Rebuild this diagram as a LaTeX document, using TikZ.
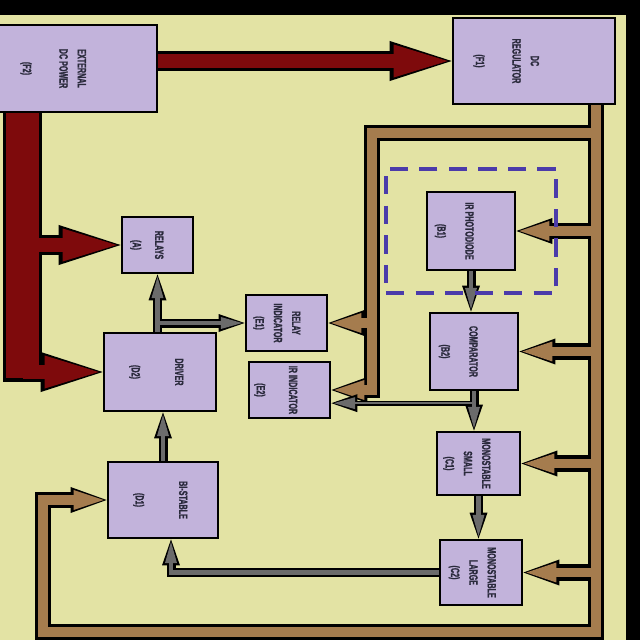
\documentclass[tikz,border=0pt]{standalone}
\usepackage{fontspec}
\usepackage{graphicx}
\usetikzlibrary{arrows.meta,calc,fit}
\newfontfamily\blockfont[FakeStretch=0.6,FakeBold=1.2]{Liberation Sans}
\definecolor{paper}{HTML}{E3E3A4}
\definecolor{lilac}{HTML}{C2B3DB}
\definecolor{powerred}{HTML}{7E0A0C}
\definecolor{wire}{HTML}{A57C4E}
\definecolor{sig}{HTML}{6B6B6B}
\definecolor{dashblue}{HTML}{4B3BAA}
\definecolor{ink}{HTML}{2A2A3C}
\newlength{\pxu}\setlength{\pxu}{0.025cm}
% rotated label, shifted left by #1 px
\newcommand{\blk}[2][0]{\rotatebox{-90}{\begin{tabular}{@{}c@{}}#2\end{tabular}}\hspace*{\dimexpr #1\pxu*2\relax}}
\tikzset{blkbox/.style 2 args={draw=black,line width=2pt,fill=lilac,minimum width=#1*0.025cm,
  minimum height=#2*0.025cm,inner sep=1pt,text=ink,font=\blockfont\bfseries\fontsize{8.5}{13}\selectfont},
  sensorframe/.style={draw=dashblue,line width=2.8pt,dash pattern=on 13pt off 8pt}}
\begin{document}
\begin{tikzpicture}[x=0.025cm,y=-0.025cm,line join=miter]
\useasboundingbox (0,0) rectangle (640,640);
\clip (0,0) rectangle (640,640);
\fill[paper] (0,0) rectangle (640,640);
\fill[black] (0,0) rectangle (640,15);
\fill[black] (626,0) rectangle (640,640);

% blocks
\node[blkbox={162}{87}] (F2) at (76,68.5) {\blk[22]{EXTERNAL\\DC POWER\\[13pt](F2)}};
\node[blkbox={162}{86}] (F1) at (534,61) {\blk[27]{DC\\REGULATOR\\[13pt](F1)}};
\node[blkbox={71}{56}] (A) at (157.5,245) {\blk[10]{RELAYS\\[3pt](A)}};
\node[blkbox={112}{78}] (D2) at (160,372) {\blk[3]{DRIVER\\[18pt](D2)}};
\node[blkbox={81}{56}] (E1) at (286.5,323) {\blk[9]{RELAY\\INDICATOR\\(E1)}};
\node[blkbox={81}{56}] (E2) at (289.5,390) {\blk[13]{IR INDICATOR\\[10pt](E2)}};
\node[blkbox={88}{78}] (B1) at (471,231) {\blk[16]{IR PHOTODIODE\\[7pt](B1)}};
\node[blkbox={88}{77}] (B2) at (474,351.5) {\blk[15]{COMPARATOR\\[7pt](B2)}};
\node[blkbox={83}{63}] (C1) at (478.5,463.5) {\blk[11]{MONOSTABLE\\SMALL\\(C1)}};
\node[blkbox={82}{65}] (C2) at (481,572.5) {\blk[8]{MONOSTABLE\\LARGE\\(C2)}};
\node[blkbox={110}{76}] (D1) at (163,500) {\blk[2]{BI-STABLE\\[18pt](D1)}};

% power feed
\coordinate (trunk) at (22.5,382);
\foreach \tw/\aw/\hl/\hw/\col/\sh in {27.7pt/14.2pt/44pt/28.5pt/black/0pt,23.5pt/10pt/38.4pt/23.5pt/powerred/2.8pt}{
 \draw[draw=\col,line width=\tw,shorten >=\sh] (F2.south -| trunk) -- (trunk);
 \begin{scope}[draw=\col,line width=\aw,shorten >=\sh,-{Triangle[length=\hl,width=\hw,line width=0pt]}]
  \draw (F2.east |- F1.west) -- (F1.west);
  \draw (trunk |- A.west) -- (A.west);
  \draw (trunk |- D2.west) -- (D2.west);
 \end{scope}}

% regulated supply
\coordinate (bus) at (596,632);
\coordinate (loop) at (43,632);
\coordinate (tap) at (372,133);
\foreach \lw/\hl/\hw/\col/\sh in {11.5pt/25.6pt/18.5pt/black/0pt,6.8pt/21.3pt/14.2pt/wire/2.1pt}{
 \begin{scope}[draw=\col,line width=\lw,shorten >=\sh,-{Triangle[length=\hl,width=\hw,line width=0pt]}]
  \draw (F1.south -| bus) -- (bus) -- (loop) -- (loop |- D1.west) -- (D1.west);
  \draw (tap -| bus) -- (tap) -- (tap |- E2.east) -- (E2.east);
  \draw (tap |- E1.east) -- (E1.east);
  \foreach \n in {B1,B2,C1,C2} \draw (bus |- \n.east) -- (\n.east);
 \end{scope}}

% signal path
\coordinate (split) at ($(B2.south)!0.3!(C1.north)$);
\coordinate (bend) at ([xshift=0.2cm]D1.south);
\foreach \lw/\hl/\hw/\tl/\col/\sh in {6.4pt/18.5pt/12.8pt/3.6pt/black/0pt,3.2pt/15pt/8.5pt/1.4pt/sig/1.8pt}{
 \begin{scope}[draw=\col,line width=\lw,shorten >=\sh,-{Triangle[length=\hl,width=\hw,line width=0pt]}]
  \draw (A.south |- D2.north) -- (A.south);
  \draw (A.south |- E1.west) -- (E1.west);
  \draw (D1.north) -- (D1.north |- D2.south);
  \draw (B1.south) -- (B1.south |- B2.north);
  \draw (B2.south) -- (B2.south |- C1.north);
  \draw (C1.south) -- (C1.south |- C2.north);
  \draw (C2.west) -- (C2.west -| bend) -- (bend);
  \draw[line width=\tl] (split) -- (split -| E2.east);
 \end{scope}}

% sensor enclosure
\node[sensorframe,inner xsep=0.99cm,inner ysep=0.55cm,fit=(B1)] (sensor) {};
\end{tikzpicture}
\end{document}
